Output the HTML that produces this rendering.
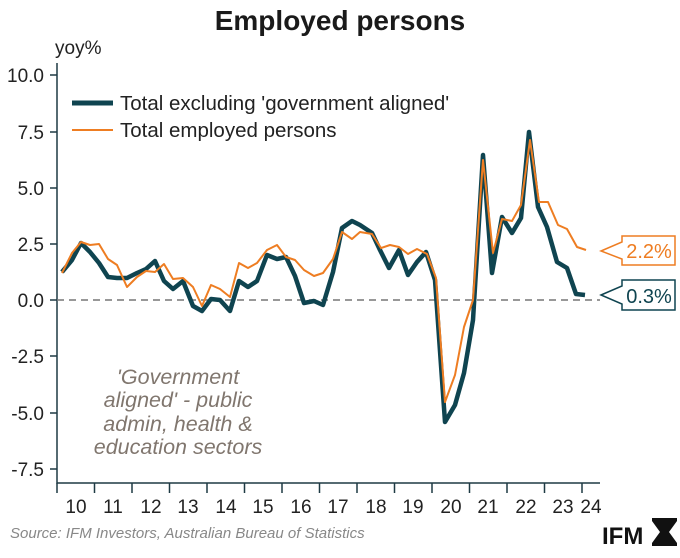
<!DOCTYPE html>
<html><head><meta charset="utf-8"><style>
body{margin:0;background:#fff;width:680px;height:553px;overflow:hidden}
text{font-family:"Liberation Sans",sans-serif}
</style></head><body>
<svg width="680" height="553" viewBox="0 0 680 553" xmlns="http://www.w3.org/2000/svg">
<text x="340" y="30" text-anchor="middle" font-size="28" font-weight="bold" fill="#1a1a1a">Employed persons</text>
<text x="55" y="54" font-size="19" fill="#222">yoy%</text>
<g font-size="19" fill="#222" text-anchor="end">
<text x="44" y="82">10.0</text><text x="44" y="139">7.5</text><text x="44" y="195">5.0</text><text x="44" y="251">2.5</text><text x="44" y="307">0.0</text><text x="44" y="363">-2.5</text><text x="44" y="420">-5.0</text><text x="44" y="476">-7.5</text>
</g>
<g stroke="#1f3a44" stroke-width="1.5" fill="none">
<path d="M57 63V483H600"/>
<path d="M50 75H57M50 132H57M50 188H57M50 244H57M50 300H57M50 356H57M50 413H57M50 469H57"/>
<path d="M57 483V493M94.5 483V493M132 483V493M169.5 483V493M207 483V493M244.5 483V493M282 483V493M319.5 483V493M357 483V493M394.5 483V493M432 483V493M469.5 483V493M507 483V493M544.5 483V493M582 483V493"/>
</g>
<g font-size="19" fill="#222" text-anchor="middle">
<text x="76" y="513">10</text><text x="113" y="513">11</text><text x="151" y="513">12</text><text x="188" y="513">13</text><text x="226" y="513">14</text><text x="263" y="513">15</text><text x="301" y="513">16</text><text x="338" y="513">17</text><text x="376" y="513">18</text><text x="413" y="513">19</text><text x="451" y="513">20</text><text x="488" y="513">21</text><text x="526" y="513">22</text><text x="563" y="513">23</text><text x="591" y="513">24</text>
</g>
<path d="M57 300H600" stroke="#777" stroke-width="1.5" stroke-dasharray="7,5"/>
<polyline fill="none" stroke="#0f4450" stroke-width="4.5" stroke-linejoin="round" points="62,272 72,260 81,243 90,252 99,263 108,277 117,278 127,278 137,273 146,269 155,261 164,281 173,289 183,281 193,306 202,311 211,299 220,300 230,311 239,281 248,287 257,281 267,255 277,259 286,257 295,276 304,303 314,301 323,305 333,272 342,228 352,221 360,225 372,233 380,250 389,268 399,250 408,275 417,262 426,252 435,280 445,422 455,405 464,373 473,320 483,155 492,273 502,217 512,233 521,218 529,132 538,207 547,227 557,262 567,268 576,294 585,295"/>
<polyline fill="none" stroke="#ee7d22" stroke-width="2" stroke-linejoin="round" points="62,273 72,253 81,242 90,245 99,244 108,259 117,265 127,287 137,277 146,271 155,272 164,264 173,279 183,278 193,287 202,306 211,285 220,289 230,297 239,263 248,268 257,263 267,250 277,245 286,257 295,260 304,270 314,276 323,273 333,259 342,232 352,239 360,232 372,234 381,248 390,245 399,247 408,254 417,249 427,254 436,278 445,402 455,375 464,327 473,300 483,160 493,253 502,219 512,221 521,205 530,140 539,202 548,202 558,225 567,229 577,247 586,250"/>
<path d="M72 103H113" stroke="#0f4450" stroke-width="5"/>
<path d="M72 130H113" stroke="#ee7d22" stroke-width="2"/>
<text x="120" y="110" font-size="20.5" fill="#222">Total excluding 'government aligned'</text>
<text x="120" y="137" font-size="20.5" fill="#222">Total employed persons</text>
<path d="M601 251L622 242V236H675V265H622V259Z" fill="#fff" stroke="#ee7d22" stroke-width="1.5"/>
<text x="649" y="258" text-anchor="middle" font-size="20" fill="#ee7d22">2.2%</text>
<path d="M601 295L622 286V280H675V310H622V304Z" fill="#fff" stroke="#0f4450" stroke-width="1.5"/>
<text x="649" y="303" text-anchor="middle" font-size="20" fill="#0f4450">0.3%</text>
<g font-size="21.5" font-style="italic" fill="#80766e" text-anchor="middle">
<text x="178" y="384">'Government</text><text x="178" y="407">aligned' - public</text><text x="178" y="431">admin, health &amp;</text><text x="178" y="454">education sectors</text>
</g>
<text x="10" y="538" font-size="15" font-style="italic" fill="#888">Source: IFM Investors, Australian Bureau of Statistics</text>
<text x="602" y="544" font-size="24" font-weight="bold" fill="#111">IFM</text>
<path d="M652 518H677V521L669 532L677 543V546H652V543L660 532L652 521Z" fill="#111"/>
</svg>
</body></html>
